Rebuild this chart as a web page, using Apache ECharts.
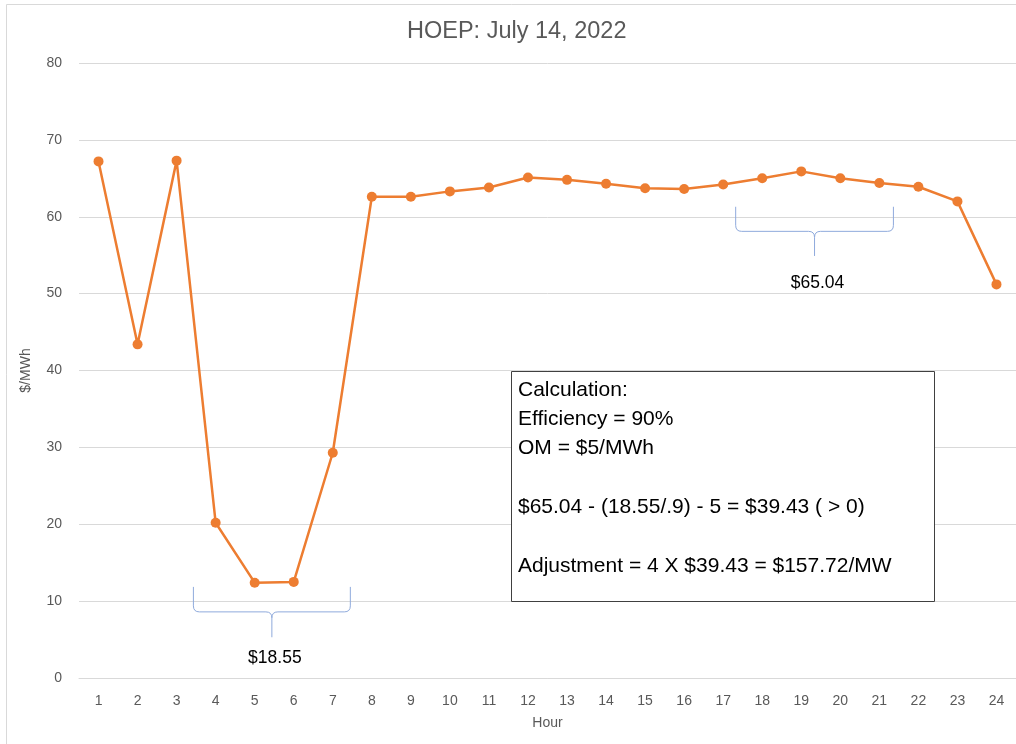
<!DOCTYPE html>
<html>
<head>
<meta charset="utf-8">
<script src="https://cdn.jsdelivr.net/npm/echarts@6/dist/echarts.min.js"></script>
<style>html,body{margin:0;padding:0;background:#fff;}#c{width:1016px;height:744px;}</style>
</head>
<body>
<div id="c"></div>
<script>
const hours = ['1','2','3','4','5','6','7','8','9','10','11','12','13','14','15','16','17','18','19','20','21','22','23','24'];
const hoep = [67.2,43.4,67.3,20.2,12.4,12.5,29.3,62.6,62.6,63.3,63.8,65.1,64.8,64.3,63.7,63.6,64.2,65.0,65.9,65.0,64.4,63.9,62.0,51.2];
const yTicks = [0,10,20,30,40,50,60,70,80];
const titleText = 'HOEP: July 14, 2022';
const calcLines = ['Calculation:','Efficiency = 90%','OM = $5/MWh','','$65.04 - (18.55/.9) - 5 = $39.43 ( > 0)','','Adjustment = 4 X $39.43 = $157.72/MW'];
// brace annotations: [fromIndex, toIndex, topValue, barValue, tipValue, labelValue, label]
const lowBrace = [2.43, 6.45, 11.85, 8.6, 5.3, 2.6, '$18.55'];
const highBrace = [16.32, 20.36, 61.3, 58.1, 54.9, 51.4, '$65.04'];

const FONT = 'Liberation Sans, Arial, sans-serif';
const chart = echarts.init(document.getElementById('c'));
chart.setOption({
  animation: false,
  backgroundColor: '#ffffff',
  title: {
    text: titleText, left: 402, top: 15,
    textStyle: {fontFamily: FONT, fontSize: 23.5, fontWeight: 'normal', color: '#595959'}
  },
  grid: {left: 79, top: 63, width: 938, bottom: 66},
  xAxis: {
    type: 'category', data: hours, boundaryGap: true,
    name: 'Hour', nameLocation: 'middle', nameGap: 38,
    nameTextStyle: {fontFamily: FONT, fontSize: 14, color: '#595959'},
    axisLine: {show: true, lineStyle: {color: '#d9d9d9', width: 1}},
    axisTick: {show: false},
    axisLabel: {fontFamily: FONT, fontSize: 14, color: '#595959', margin: 16}
  },
  yAxis: {
    type: 'value', min: yTicks[0], max: yTicks[yTicks.length-1], interval: 10,
    name: '$/MWh', nameLocation: 'middle', nameGap: 46, nameRotate: 90,
    nameTextStyle: {fontFamily: FONT, fontSize: 14, color: '#595959'},
    axisLine: {show: false}, axisTick: {show: false},
    axisLabel: {fontFamily: FONT, fontSize: 14, color: '#595959', margin: 17},
    splitLine: {lineStyle: {color: '#d9d9d9', width: 1}}
  },
  series: [{
    type: 'line', data: hoep,
    symbol: 'circle', symbolSize: 10,
    lineStyle: {color: '#ED7D31', width: 2.5},
    itemStyle: {color: '#ED7D31'}
  }]
});

function xPix(i){
  const a = chart.convertToPixel({gridIndex:0}, [0, 0])[0];
  const b = chart.convertToPixel({gridIndex:0}, [1, 0])[0];
  return a + (b - a) * i;
}
function yPix(v){ return chart.convertToPixel({gridIndex:0}, [0, v])[1]; }

const BRACE_STYLE = {stroke: '#8faadc', lineWidth: 1, fill: null};
function seg(x1, y1, x2, y2){
  return {type: 'line', shape: {x1, y1, x2, y2}, style: BRACE_STYLE, z: 10, silent: true};
}
function curve(x1, y1, cx, cy, x2, y2){
  return {type: 'bezierCurve', shape: {x1, y1, x2, y2, cpx1: cx, cpy1: cy}, style: BRACE_STYLE, z: 10, silent: true};
}
function brace(spec){
  const L = xPix(spec[0]), R = xPix(spec[1]), C = (L + R) / 2;
  const top = yPix(spec[2]), h = yPix(spec[3]), tip = yPix(spec[4]);
  const r = 6;
  return [
    seg(L, top, L, h - r),
    curve(L, h - r, L, h, L + r, h),
    seg(L + r, h, C - r, h),
    curve(C - r, h, C, h, C, h + r),
    seg(C, h + r, C, tip),
    curve(C + r, h, C, h, C, h + r),
    seg(C + r, h, R - r, h),
    curve(R - r, h, R, h, R, h - r),
    seg(R, h - r, R, top),
    {type: 'text', x: C + 3, y: yPix(spec[5]), style: {text: spec[6], fontFamily: FONT, fontSize: 17.5, fill: '#000', align: 'center', verticalAlign: 'middle'}, z: 10}
  ];
}

const boxX = 511, boxY = 371, boxW = 423, boxH = 230;
const textEls = calcLines.map((t, k) => ({
  type: 'text', x: boxX + 7, y: boxY + 19 + k * 29.3,
  style: {text: t, fontFamily: FONT, fontSize: 21, fill: '#000', align: 'left', verticalAlign: 'middle'}, z: 21
}));

chart.setOption({
  graphic: [
    {type: 'rect', shape: {x: 6.5, y: 4.5, width: 1030, height: 760}, style: {fill: null, stroke: '#d9d9d9', lineWidth: 1}, z: 0, silent: true},
    ...brace(lowBrace), ...brace(highBrace),
    {type: 'rect', shape: {x: boxX + 0.5, y: boxY + 0.5, width: boxW, height: boxH}, style: {fill: '#ffffff', stroke: '#404040', lineWidth: 1}, z: 20},
    ...textEls
  ]
});
</script>
</body>
</html>
